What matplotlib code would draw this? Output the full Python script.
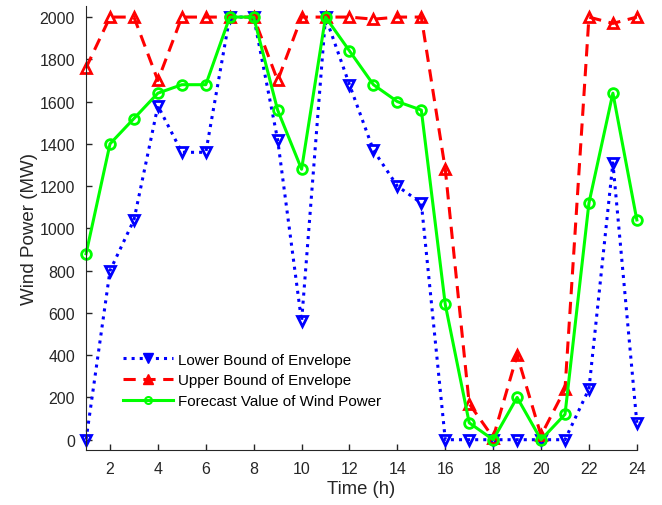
import matplotlib
matplotlib.use("Agg")
import matplotlib.pyplot as plt
from matplotlib.lines import Line2D

plt.rcParams['font.family'] = ['Liberation Sans', 'DejaVu Sans']

hours = list(range(1, 25))
lower = [0, 800, 1040, 1580, 1360, 1360, 2000, 2000, 1420, 560, 2000, 1680,
         1370, 1200, 1120, 0, 0, 0, 0, 0, 0, 240, 1310, 80]
upper = [1760, 2000, 2000, 1700, 2000, 2000, 2000, 2000, 1700, 2000, 2000, 2000,
         1990, 2000, 2000, 1280, 170, 10, 400, 20, 240, 2000, 1970, 2000]
forecast = [880, 1400, 1520, 1640, 1680, 1680, 2000, 2000, 1560, 1280, 2000, 1840,
            1680, 1600, 1560, 640, 80, 0, 200, 0, 120, 1120, 1640, 1040]
labels = ['Lower Bound of Envelope', 'Upper Bound of Envelope', 'Forecast Value of Wind Power']
xticks = list(range(2, 25, 2))
yticks = list(range(0, 2001, 200))

fig = plt.figure(figsize=(6.62, 5.06), dpi=100)
ax = fig.add_axes([0.13, 0.109, 0.832, 0.877])

ax.plot(hours, lower, color='#0000FF', linestyle=':', linewidth=2.2,
        marker='v', markersize=7, markerfacecolor='none', markeredgewidth=2, clip_on=False)
ax.plot(hours, upper, color='#FF0000', linestyle=(0, (4, 2.5)), linewidth=2.2,
        marker='^', markersize=7, markerfacecolor='none', markeredgewidth=2, clip_on=False)
ax.plot(hours, forecast, color='#00FF00', linestyle='-', linewidth=2.2,
        marker='o', markersize=7, markerfacecolor='none', markeredgewidth=2, clip_on=False)

handles = [
    Line2D([], [], color='#0000FF', linestyle=':', linewidth=2.2, marker='v',
           markersize=7, markerfacecolor='#0000FF'),
    Line2D([], [], color='#FF0000', linestyle=(0, (4, 2.5)), linewidth=2.2, marker='^',
           markersize=7, markerfacecolor='#FF0000'),
    Line2D([], [], color='#00FF00', linestyle='-', linewidth=2.2, marker='o',
           markersize=5, markerfacecolor='none', markeredgewidth=1.5),
]
ax.legend(handles, labels, loc='lower left', bbox_to_anchor=(0.056, 0.08),
          frameon=False, fontsize=10.9, handlelength=3.3, labelspacing=0.45,
          handletextpad=0.35, borderaxespad=0)

ax.set_xlim(1, 24)
ax.set_ylim(-48, 2052)
ax.set_xticks(xticks)
ax.set_yticks(yticks)
ax.tick_params(direction='in', length=4, width=1, colors='#262626', labelsize=11.5, pad=8)
for s in ['top', 'right']:
    ax.spines[s].set_visible(False)
for s in ['left', 'bottom']:
    ax.spines[s].set_color('#262626')
ax.set_xlabel('Time (h)', fontsize=13.3, color='#262626', labelpad=3)
ax.set_ylabel('Wind Power (MW)', fontsize=13.5, color='#262626', labelpad=1)

fig.savefig('out.png', dpi=100)
